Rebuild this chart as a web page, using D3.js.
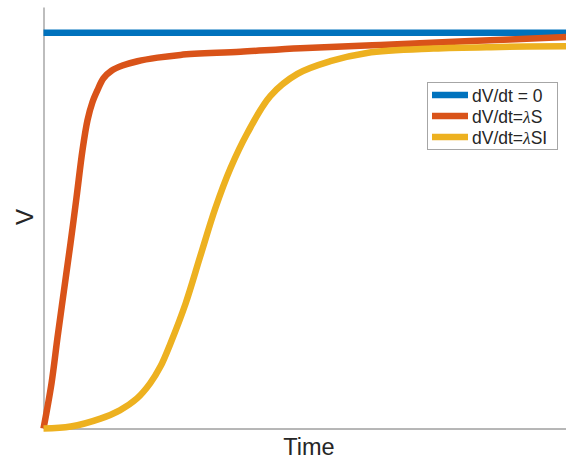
<!DOCTYPE html>
<html>
<head>
<meta charset="utf-8">
<script src="https://cdn.jsdelivr.net/npm/d3@7"></script>
<style>
  html, body { margin: 0; padding: 0; background: #fff; }
  svg { display: block; }
  text { font-family: "Liberation Sans", Arial, Helvetica, sans-serif; fill: #262626; }
</style>
</head>
<body>
<svg id="chart" width="566" height="463"></svg>
<script>
// Model trajectories of V over time for three growth rules
const timeConst = [0, 100];
const valConst  = [1, 1];

const timeS = [0, 1.53, 2.68, 3.92, 5.17, 6.32, 7.46, 8.42, 9.38, 10.33, 11.48, 13.01, 15.12, 17.99, 21.82, 26.22, 37.7, 49.19, 64.5, 81.72, 100];
const valS  = [0, 0.114, 0.230, 0.349, 0.468, 0.584, 0.703, 0.779, 0.825, 0.855, 0.885, 0.904, 0.917, 0.928, 0.937, 0.944, 0.952, 0.961, 0.969, 0.979, 0.989];

const timeSI = [0, 5.2, 10.9, 14.6, 17.9, 20.4, 22.4, 24.3, 27.2, 30.0, 32.9, 35.8, 39.0, 43.4, 48.6, 54.9, 61.9, 74.6, 87.4, 100];
const valSI  = [0, 0.005, 0.025, 0.046, 0.076, 0.114, 0.157, 0.215, 0.316, 0.435, 0.557, 0.658, 0.746, 0.840, 0.896, 0.928, 0.949, 0.960, 0.964, 0.966];

const seriesNames  = ["dV/dt = 0", "dV/dt=λS", "dV/dt=λSI"];
const seriesColors = ["#0072BD", "#D95319", "#EDB120"];

const series = [
  { name: seriesNames[0], color: seriesColors[0], pts: timeConst.map((t, i) => [t, valConst[i]]) },
  { name: seriesNames[1], color: seriesColors[1], pts: timeS.map((t, i) => [t, valS[i]]) },
  { name: seriesNames[2], color: seriesColors[2], pts: timeSI.map((t, i) => [t, valSI[i]]) }
];

const svg = d3.select("#chart");
const plotLeft = 43.5, plotRight = 566, plotTop = 7, plotBottom = 428.5;

const x = d3.scaleLinear().domain([0, 100]).range([plotLeft, plotRight]);
const y = d3.scaleLinear().domain([0, 1.065]).range([plotBottom, plotTop]);

// Axes: no ticks, just the spines
const xAxis = d3.axisBottom(x).tickValues([]).tickSizeOuter(0);
const yAxis = d3.axisLeft(y).tickValues([]).tickSizeOuter(0);

svg.append("g")
  .attr("transform", `translate(0,${plotBottom})`)
  .call(xAxis)
  .call(g => g.select(".domain").attr("stroke", "#6f6f6f").attr("stroke-width", 1));

svg.append("g")
  .attr("transform", `translate(${plotLeft},0)`)
  .call(yAxis)
  .call(g => g.select(".domain").attr("stroke", "#bdbdbd").attr("stroke-width", 2));

// Curves
const line = d3.line()
  .x(d => x(d[0]))
  .y(d => y(d[1]))
  .curve(d3.curveCatmullRom.alpha(0.5));

svg.append("g")
  .selectAll("path")
  .data(series)
  .join("path")
  .attr("d", d => line(d.pts))
  .attr("fill", "none")
  .attr("stroke", d => d.color)
  .attr("stroke-width", 6.5)
  .attr("stroke-linejoin", "round");

// Axis labels
svg.append("text")
  .attr("x", 309)
  .attr("y", 455)
  .attr("text-anchor", "middle")
  .attr("font-size", 23.5)
  .text("Time");

svg.append("text")
  .attr("transform", "translate(33,217) rotate(-90)")
  .attr("text-anchor", "middle")
  .attr("font-size", 24)
  .text("V");

// Legend
const legend = svg.append("g");
legend.append("rect")
  .attr("x", 427.5).attr("y", 82.5)
  .attr("width", 130).attr("height", 67)
  .attr("fill", "#fff")
  .attr("stroke", "#a6a6a6")
  .attr("stroke-width", 1);

const rowY = [95, 116, 137];
const rows = legend.selectAll("g.row")
  .data(series)
  .join("g")
  .attr("class", "row")
  .attr("transform", (d, i) => `translate(0,${rowY[i]})`);

rows.append("line")
  .attr("x1", 432).attr("x2", 468)
  .attr("y1", 0).attr("y2", 0)
  .attr("stroke", d => d.color)
  .attr("stroke-width", 6.5);

rows.append("text")
  .attr("x", 472)
  .attr("y", 6.5)
  .attr("font-size", 17.5)
  .each(function(d) {
    const t = d3.select(this);
    const parts = d.name.split("λ");
    t.append("tspan").text(parts[0]);
    if (parts.length > 1) {
      t.append("tspan")
        .attr("font-family", "'Liberation Serif', 'DejaVu Serif', serif")
        .attr("font-style", "italic")
        .text("λ");
      t.append("tspan").text(parts[1]);
    }
  });
</script>
</body>
</html>
